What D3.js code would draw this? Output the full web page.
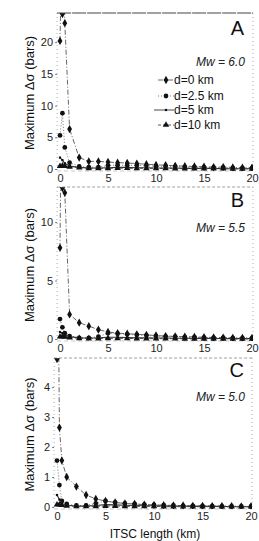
<!DOCTYPE html>
<html>
<head>
<meta charset="utf-8">
<script src="https://cdn.jsdelivr.net/npm/d3@7"></script>
<style>
  body { margin: 0; background: #fff; }
  svg { display: block; font-family: "Liberation Sans", Arial, sans-serif; }
</style>
</head>
<body>
<div id="chart"></div>
<script>
// ITSC length grid (km)
var xs = [0, 0.25, 0.5, 1, 2, 3, 4, 5, 6, 7, 8, 9, 10, 11, 12, 13, 14, 15, 16, 17, 18, 19, 20];

var seriesNames = ["d=0 km", "d=2.5 km", "d=5 km", "d=10 km"];
var panelLetters = ["A", "B", "C"];
var panelMw = ["Mw = 6.0", "Mw = 5.5", "Mw = 5.0"];
var yMax = [24.6, 13, 4.97];
var yTicks = [[0, 5, 10, 15, 20], [0, 5, 10], [0, 1, 2, 3, 4]];
var xTicks = [0, 5, 10, 15, 20];

// panel A (Mw 6.0)
var a_d0  = [20.2, 40, 23.0, 6.3, 1.8, 1.2, 1.2, 1.1, 1.0, 0.95, 0.85, 0.75, 0.65, 0.6, 0.5, 0.45, 0.4, 0.35, 0.3, 0.3, 0.25, 0.2, 0.2];
var a_d25 = [5.3, 8.8, 3.4, 1.0, 0.4, 0.3, 0.3, 0.55, 0.6, 0.6, 0.55, 0.5, 0.45, 0.4, 0.35, 0.3, 0.3, 0.25, 0.2, 0.2, 0.15, 0.15, 0.1];
var a_d5  = [1.8, 1.4, 0.9, 0.45, 0.25, 0.15, 0.15, 0.2, 0.25, 0.25, 0.2, 0.2, 0.15, 0.15, 0.15, 0.1, 0.1, 0.1, 0.1, 0.05, 0.05, 0.05, 0.05];
var a_d10 = [0.45, 0.5, 0.45, 0.35, 0.2, 0.1, 0.08, 0.1, 0.12, 0.12, 0.1, 0.1, 0.08, 0.08, 0.06, 0.06, 0.05, 0.05, 0.04, 0.04, 0.03, 0.03, 0.03];

// panel B (Mw 5.5)
var b_d0  = [7.8, 30, 12.5, 2.1, 1.4, 1.1, 0.8, 0.6, 0.5, 0.45, 0.4, 0.35, 0.3, 0.25, 0.22, 0.2, 0.18, 0.15, 0.13, 0.12, 0.1, 0.1, 0.1];
var b_d25 = [1.7, 1.0, 0.5, 0.25, 0.1, 0.1, 0.2, 0.5, 0.45, 0.4, 0.35, 0.3, 0.25, 0.2, 0.2, 0.15, 0.15, 0.12, 0.1, 0.1, 0.08, 0.06, 0.05];
var b_d5  = [0.6, 0.5, 0.35, 0.2, 0.1, 0.08, 0.1, 0.15, 0.15, 0.12, 0.1, 0.1, 0.08, 0.08, 0.06, 0.06, 0.05, 0.05, 0.04, 0.04, 0.03, 0.03, 0.03];
var b_d10 = [0.2, 0.2, 0.18, 0.12, 0.06, 0.04, 0.04, 0.05, 0.05, 0.05, 0.04, 0.04, 0.03, 0.03, 0.03, 0.02, 0.02, 0.02, 0.02, 0.02, 0.01, 0.01, 0.01];

// panel C (Mw 5.0)
var c_d0  = [12, 2.65, 1.55, 1.0, 0.68, 0.4, 0.27, 0.2, 0.15, 0.12, 0.1, 0.08, 0.07, 0.06, 0.05, 0.05, 0.04, 0.04, 0.03, 0.03, 0.03, 0.02, 0.02];
var c_d25 = [1.55, 0.73, 0.2, 0.1, 0.05, 0.05, 0.12, 0.2, 0.15, 0.12, 0.1, 0.08, 0.07, 0.06, 0.05, 0.04, 0.04, 0.03, 0.03, 0.02, 0.02, 0.02, 0.02];
var c_d5  = [0.4, 0.25, 0.12, 0.06, 0.03, 0.03, 0.05, 0.08, 0.07, 0.06, 0.05, 0.04, 0.04, 0.03, 0.03, 0.03, 0.02, 0.02, 0.02, 0.02, 0.01, 0.01, 0.01];
var c_d10 = [0.08, 0.08, 0.06, 0.04, 0.02, 0.02, 0.02, 0.03, 0.03, 0.02, 0.02, 0.02, 0.02, 0.01, 0.01, 0.01, 0.01, 0.01, 0.01, 0.01, 0.01, 0.01, 0.01];

var panelData = [[a_d0, a_d25, a_d5, a_d10], [b_d0, b_d25, b_d5, b_d10], [c_d0, c_d25, c_d5, c_d10]];

// layout of each panel (pixels)
var panels = [
  { top: 13,  zero: 169, x0: 60, x20: 252, letterDy: 22, mwDy: 53 },
  { top: 187, zero: 339, x0: 60, x20: 252, letterDy: 20, mwDy: 45 },
  { top: 358, zero: 507, x0: 57, x20: 251, letterDy: 19, mwDy: 43 }
];

var dashes = ["5,2,1,2", "1,2", null, "3,2"];
var lineCol = ["#555", "#666", "#333", "#444"];

var WIDTH = 259, HEIGHT = 541;
var svg = d3.select("#chart").append("svg")
  .attr("width", WIDTH).attr("height", HEIGHT);

function marker(sel, k, size) {
  var sym = [d3.symbolDiamond, d3.symbolCircle, d3.symbolSquare, d3.symbolTriangle][k];
  var s = [20, 18, 5, 18][k];
  sel.attr("d", d3.symbol().type(sym).size(size || s)).attr("fill", "#111");
}

panels.forEach(function(p, pi) {
  var x = d3.scaleLinear().domain([0, 20]).range([p.x0, p.x20]);
  var y = d3.scaleLinear().domain([0, yMax[pi]]).range([p.zero, p.top]);
  var left = x(-0.3), right = x(20.1), bottom = p.zero + 2;

  var g = svg.append("g");

  // frame: light dotted sides, darker top edge
  g.append("line").attr("x1", left).attr("x2", left).attr("y1", p.top).attr("y2", bottom)
    .attr("stroke", "#999").attr("stroke-dasharray", "1,3").attr("stroke-width", 0.8);
  g.append("line").attr("x1", right).attr("x2", right).attr("y1", p.top).attr("y2", bottom)
    .attr("stroke", "#999").attr("stroke-dasharray", "1,3").attr("stroke-width", 0.8);
  g.append("line").attr("x1", left).attr("x2", right).attr("y1", p.top).attr("y2", p.top)
    .attr("stroke", pi == 0 ? "#444" : "#888").attr("stroke-dasharray", pi == 0 ? "14,1" : "3,2")
    .attr("stroke-width", pi == 0 ? 1.2 : 0.8);
  g.append("line").attr("x1", left).attr("x2", right).attr("y1", bottom).attr("y2", bottom)
    .attr("stroke", "#aaa").attr("stroke-dasharray", "4,3").attr("stroke-width", 0.6);

  // y axis ticks + labels
  var yAxis = d3.axisLeft(y).tickValues(yTicks[pi]).tickFormat(d3.format("d")).tickSize(2).tickPadding(2);
  var ya = g.append("g").attr("transform", "translate(" + left + ",0)").call(yAxis);
  ya.select(".domain").remove();
  ya.selectAll("line").attr("stroke", "#777");
  ya.selectAll("text").attr("font-size", 11).attr("fill", "#222").attr("font-family", "Liberation Sans, Arial");

  // x axis labels
  var xAxis = d3.axisBottom(x).tickValues(xTicks).tickFormat(d3.format("d")).tickSize(0).tickPadding(3);
  var xa = g.append("g").attr("transform", "translate(0," + bottom + ")").call(xAxis);
  xa.select(".domain").remove();
  xa.selectAll("text").attr("font-size", 11).attr("fill", "#222").attr("font-family", "Liberation Sans, Arial");

  // y axis title
  g.append("text")
    .attr("transform", "translate(34," + ((p.top + p.zero) / 2 + 2) + ") rotate(-90)")
    .attr("text-anchor", "middle").attr("font-size", 13).attr("fill", "#111")
    .text("Maximum Δσ (bars)");

  // panel letter + magnitude
  g.append("text").attr("x", 244).attr("y", p.top + p.letterDy).attr("text-anchor", "end")
    .attr("font-size", 20).attr("fill", "#111").text(panelLetters[pi]);
  g.append("text").attr("x", 245).attr("y", p.top + p.mwDy).attr("text-anchor", "end")
    .attr("font-size", 12).attr("font-style", "italic").attr("fill", "#222").text(panelMw[pi]);

  // clip area for series
  var clipId = "clip" + pi;
  svg.append("clipPath").attr("id", clipId).append("rect")
    .attr("x", left).attr("y", p.top).attr("width", right - left).attr("height", bottom - p.top);

  var line = d3.line().x(function(d) { return x(d[0]); }).y(function(d) { return y(d[1]); });
  var plot = g.append("g").attr("clip-path", "url(#" + clipId + ")");

  panelData[pi].forEach(function(vals, k) {
    var pts = xs.map(function(xv, i) { return [xv, vals[i]]; });
    plot.append("path").datum(pts)
      .attr("d", line).attr("fill", "none")
      .attr("stroke", lineCol[k]).attr("stroke-width", k == 2 ? 1.1 : 0.9)
      .attr("stroke-dasharray", dashes[k]);
    plot.selectAll(".m" + k).data(pts.filter(function(d) { return d[1] <= yMax[pi]; }))
      .enter().append("path")
      .attr("transform", function(d) { return "translate(" + x(d[0]) + "," + y(d[1]) + ")"; })
      .call(marker, k);
    // off-scale points shown at top edge
    g.selectAll(".o" + k).data(pts.filter(function(d) { return d[1] > yMax[pi]; }))
      .enter().append("path")
      .attr("transform", function(d) { return "translate(" + x(d[0]) + "," + (p.top + 2) + ") rotate(180)"; })
      .attr("d", d3.symbol().type(d3.symbolTriangle).size(14)).attr("fill", "#111");
  });

  // legend in panel A only
  if (pi == 0) {
    var lg = g.append("g").attr("transform", "translate(158,80)");
    seriesNames.forEach(function(name, k) {
      var row = lg.append("g").attr("transform", "translate(0," + [0, 16, 30, 45][k] + ")");
      row.append("line").attr("x1", k == 2 ? -4 : 0).attr("x2", 16).attr("y1", 0).attr("y2", 0)
        .attr("stroke", lineCol[k]).attr("stroke-width", 0.9).attr("stroke-dasharray", dashes[k]);
      row.append("path").attr("transform", "translate(8,0)").call(marker, k);
      row.append("text").attr("x", 16).attr("y", 4).attr("font-size", 12).attr("fill", "#111").text(name);
    });
  }
});

// x axis title
svg.append("text").attr("x", 155).attr("y", 538).attr("text-anchor", "middle")
  .attr("font-size", 12).attr("fill", "#111").text("ITSC length (km)");
</script>
</body>
</html>
